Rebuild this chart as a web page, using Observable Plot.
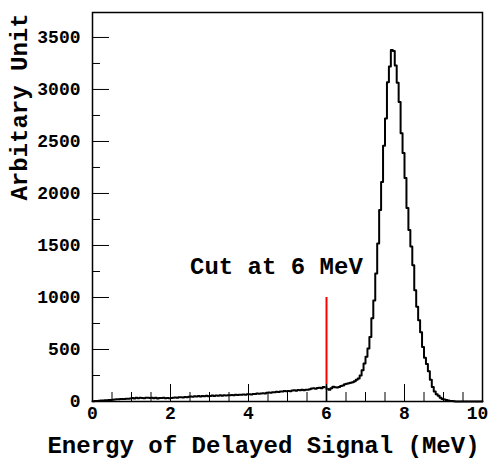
<!DOCTYPE html>
<html><head><meta charset="utf-8">
<script src="https://cdn.jsdelivr.net/npm/d3@7"></script>
<script src="https://cdn.jsdelivr.net/npm/@observablehq/plot@0.6"></script>
<style>body{margin:0;background:#fff}</style>
</head><body><div id="chart"></div>
<script>
const binWidth = 0.05;
const counts = [
  3, 5, 6, 8, 9, 10, 12, 13, 15, 14,
  18, 20, 22, 21, 24, 25, 23, 27, 26, 28,
  33, 30, 35, 32, 36, 34, 31, 37, 35, 33,
  35, 32, 36, 30, 34, 33, 35, 31, 34, 32,
  34, 36, 38, 35, 40, 42, 39, 44, 41, 46,
  48, 45, 50, 47, 52, 49, 53, 51, 55, 50,
  54, 57, 53, 58, 56, 60, 55, 59, 57, 61,
  60, 63, 59, 65, 62, 66, 64, 68, 65, 69,
  70, 68, 73, 71, 76, 74, 78, 80, 77, 84,
  86, 83, 90, 88, 94, 91, 97, 95, 100, 98,
  102, 99, 105, 108, 104, 110, 107, 112, 109, 114,
  113, 118, 124, 127, 122, 130, 133, 128, 140, 138,
  120, 112, 128, 142, 138, 135, 140, 148, 155, 165,
  170, 176, 180, 186, 195, 210, 220, 250, 300, 365,
  430, 510, 620, 800, 970, 1230, 1520, 1840, 2110, 2460,
  2720, 3070, 3220, 3380, 3370, 3230, 3065, 2880, 2580, 2390,
  2150, 1860, 1650, 1490, 1310, 1070, 910, 780, 665, 525,
  420, 360, 290, 210, 140, 95, 70, 55, 35, 25,
  19, 14, 10, 6, 4, 3, 1, 1, 0, 0,
  0, 0, 0, 0, 0, 0, 0, 0, 0, 0
];
const xMajorTicks = [0, 2, 4, 6, 8, 10];
const xMinorTicks = [0.5, 1, 1.5, 2.5, 3, 3.5, 4.5, 5, 5.5, 6.5, 7, 7.5, 8.5, 9, 9.5];
const xTickLabels = ["0", "2", "4", "6", "8", "10"];
const yMajorTicks = [0, 500, 1000, 1500, 2000, 2500, 3000, 3500];
const yMinorTicks = [250, 750, 1250, 1750, 2250, 2750, 3250, 3750];
const yTickLabels = ["0", "500", "1000", "1500", "2000", "2500", "3000", "3500"];
const xDomain = [0, 10];
const yDomain = [0, 3740];
const cutEnergy = 6;
const cutHeight = 1000;
const cutLabel = "Cut at 6 MeV";
const cutLabelX = 2.5;
const cutLabelY = 1300;
const xTitle = "Energy of Delayed Signal (MeV)";
const yTitle = "Arbitary Unit";

const hist = counts.map((c, i) => ({e: i * binWidth, c}));
hist.push({e: xDomain[1], c: counts[counts.length - 1]});

const W = 491, H = 464, mL = 92, mR = 9, mT = 12, mB = 63;
const fw = W - mL - mR, fh = H - mT - mB;
const font = "'Liberation Mono', 'Courier New', monospace";
const txt = {fontFamily: font, fontWeight: "bold", fill: "black"};

const chart = Plot.plot({
  width: W, height: H,
  marginLeft: mL, marginRight: mR, marginTop: mT, marginBottom: mB,
  x: {domain: xDomain, axis: null},
  y: {domain: yDomain, axis: null},
  style: {background: "white"},
  marks: [
    Plot.line(hist, {x: "e", y: "c", curve: "step-after", stroke: "black", strokeWidth: 2}),
    Plot.ruleX([cutEnergy], {x: d => d, y1: 0, y2: cutHeight, stroke: "#ff0000", strokeWidth: 2}),
    Plot.tickX(xMajorTicks, {x: d => d, insetTop: fh - 17, stroke: "black"}),
    Plot.tickX(xMinorTicks, {x: d => d, insetTop: fh - 9, stroke: "black"}),
    Plot.tickY(yMajorTicks, {y: d => d, insetRight: fw - 17, stroke: "black"}),
    Plot.tickY(yMinorTicks.filter(v => v < yDomain[1]), {y: d => d, insetRight: fw - 8, stroke: "black"}),
    Plot.frame({stroke: "black", strokeWidth: 1.5}),
    Plot.text(xTickLabels.filter(s => s !== "10"), {x: d => +d, text: d => d, frameAnchor: "bottom", dy: 17, fontSize: 18, ...txt}),
    Plot.text(xTickLabels.filter(s => s === "10"), {x: d => +d, text: d => d, frameAnchor: "bottom", dy: 17, dx: -5, fontSize: 18, ...txt}),
    Plot.text(yTickLabels, {y: d => +d, text: d => d, frameAnchor: "left", dx: -12, textAnchor: "end", fontSize: 18, ...txt}),
    Plot.text([xTitle], {text: d => d, frameAnchor: "bottom", textAnchor: "middle", dy: 51, dx: -24, fontSize: 24, ...txt}),
    Plot.text([yTitle], {text: d => d, frameAnchor: "left", textAnchor: "middle", dx: -73, dy: -100, rotate: -90, fontSize: 24, ...txt}),
    Plot.text([cutLabel], {x: () => cutLabelX, y: () => cutLabelY, text: d => d, textAnchor: "start", fontSize: 24, ...txt})
  ]
});
document.getElementById("chart").append(chart);
</script>
</body></html>
